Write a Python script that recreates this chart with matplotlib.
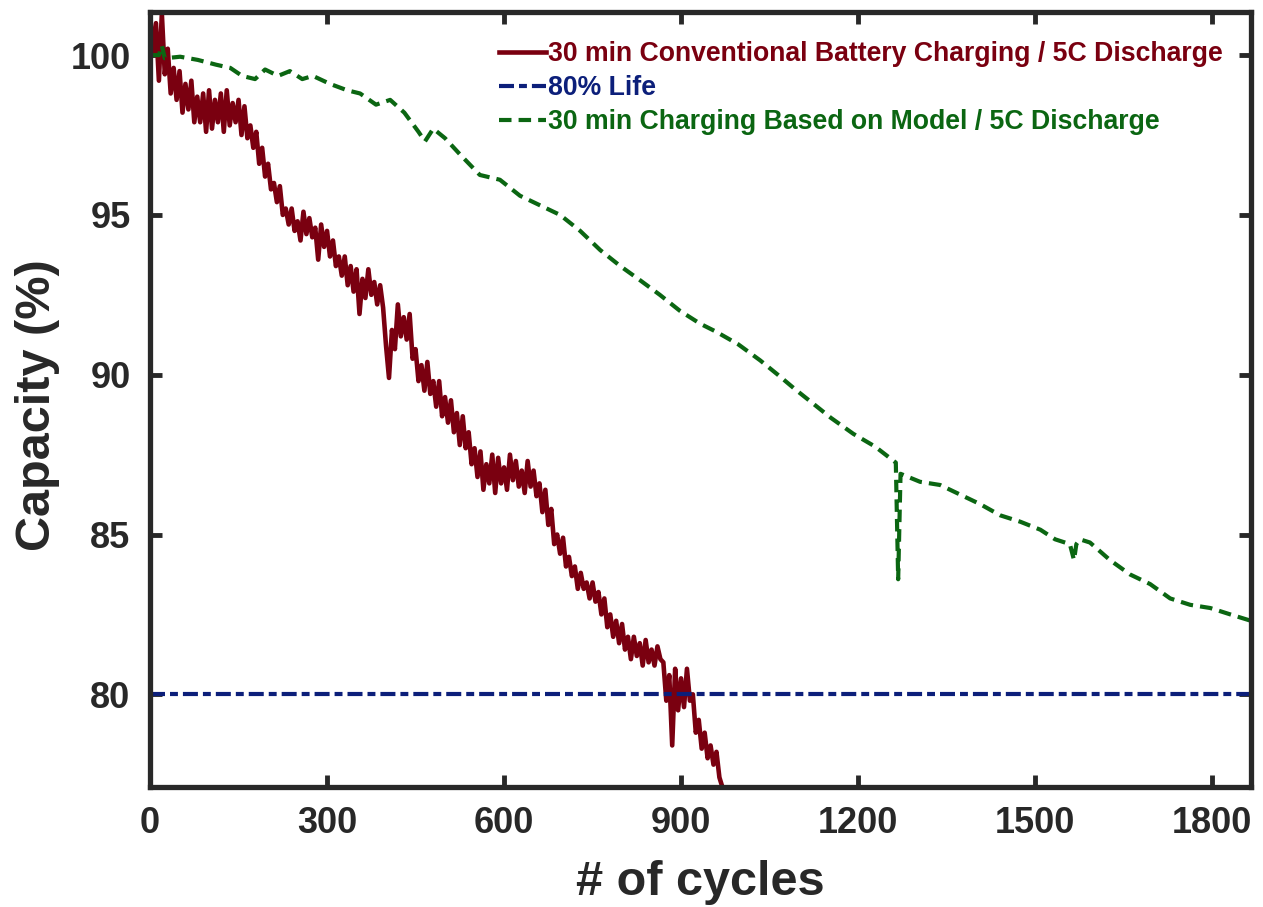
import numpy as np
import matplotlib
matplotlib.use("Agg")
from matplotlib import pyplot as plt

plt.rcParams['font.family'] = ['Liberation Sans', 'DejaVu Sans']
plt.rcParams['font.weight'] = 'bold'

# conventional charging: the curve is very noisy, so it is read as the
# upper value (at each 10-cycle mark) and the lower value 5 cycles later
conv_cycles = [0, 10, 20, 30, 40, 50, 60, 70, 80, 90,
               100, 110, 120, 130, 140, 150, 160, 170, 180, 190,
               200, 210, 220, 230, 240, 250, 260, 270, 280, 290,
               300, 310, 320, 330, 340, 350, 360, 370, 380, 390,
               400, 410, 420, 430, 440, 450, 460, 470, 480, 490,
               500, 510, 520, 530, 540, 550, 560, 570, 580, 590,
               600, 610, 620, 630, 640, 650, 660, 670, 680, 690,
               700, 710, 720, 730, 740, 750, 760, 770, 780, 790,
               800, 810, 820, 830, 840, 850, 860, 870, 880, 890,
               900, 910, 920, 930, 940, 950, 960]
conv_hi = [101.3, 101.0, 101.3, 100.2, 99.6, 99.5, 99.1, 99.2, 98.7, 98.8,
           98.9, 98.6, 98.8, 98.9, 98.5, 98.6, 98.4, 97.8, 97.6, 97.1,
           96.6, 96.0, 95.9, 95.2, 95.2, 94.8, 95.1, 94.9, 94.6, 94.7,
           94.5, 94.2, 93.7, 93.7, 93.4, 93.3, 93.0, 93.3, 92.9, 92.8,
           90.9, 91.4, 92.2, 91.8, 91.9, 90.8, 90.3, 90.4, 89.8, 89.8,
           89.3, 89.2, 88.8, 88.7, 88.2, 87.7, 87.6, 87.2, 87.5, 87.4,
           87.1, 87.5, 87.3, 87.0, 87.3, 87.0, 86.6, 86.4, 85.8, 85.0,
           84.9, 84.3, 84.0, 83.8, 83.5, 83.5, 83.2, 83.0, 82.5, 82.3,
           82.2, 81.8, 81.8, 81.6, 81.7, 81.4, 81.5, 81.0, 80.6, 80.8,
           80.5, 80.8, 80.0, 79.2, 78.8, 78.4, 78.2]
conv_lo = [100.0, 99.2, 99.4, 98.8, 98.6, 98.2, 98.3, 97.9, 97.9, 97.6,
           97.7, 97.9, 97.6, 97.8, 97.9, 97.5, 97.4, 97.1, 96.6, 96.2,
           95.8, 95.4, 95.0, 94.7, 94.5, 94.2, 94.4, 94.3, 93.6, 94.0,
           93.7, 93.4, 93.1, 92.8, 92.6, 91.9, 92.4, 92.5, 92.2, 92.1,
           89.9, 90.8, 91.2, 91.1, 90.5, 89.8, 89.5, 89.4, 89.0, 88.7,
           88.5, 88.2, 87.8, 87.7, 87.2, 86.8, 86.4, 86.6, 86.3, 86.6,
           86.4, 86.7, 86.5, 86.3, 86.5, 86.2, 85.7, 85.3, 84.7, 84.4,
           84.0, 83.7, 83.3, 83.3, 83.0, 82.9, 82.5, 82.1, 81.8, 81.6,
           81.4, 81.1, 81.2, 80.9, 81.0, 80.9, 81.1, 79.8, 78.4, 79.5,
           79.6, 79.8, 78.8, 78.3, 78.0, 77.8, 77.4]
conv_end = (970, 77.1)

# model based charging
model_cycles = [0, 15, 20, 25, 51, 81, 112, 136, 156, 178,
                195, 217, 237, 258, 276, 305, 334, 356, 383, 407,
                431, 455, 466, 480, 500, 525, 559, 593, 627, 661,
                695, 729, 763, 797, 831, 864, 898, 932, 959, 997,
                1034, 1064, 1093, 1127, 1154, 1192, 1229, 1264, 1268, 1272,
                1305, 1339, 1373, 1407, 1441, 1475, 1509, 1534, 1559, 1566,
                1570, 1576, 1593, 1627, 1661, 1695, 1729, 1763, 1797, 1831,
                1866]
model_cap = [100.0, 100.0, 100.3, 99.9, 99.95, 99.85, 99.7, 99.6, 99.35, 99.25,
             99.55, 99.35, 99.5, 99.25, 99.35, 99.1, 98.9, 98.8, 98.45, 98.6,
             98.2, 97.6, 97.3, 97.7, 97.4, 96.9, 96.25, 96.1, 95.6, 95.3,
             95.0, 94.5, 93.9, 93.4, 92.95, 92.5, 92.0, 91.6, 91.35, 90.95,
             90.45, 90.0, 89.55, 89.05, 88.65, 88.15, 87.75, 87.25, 83.6, 86.9,
             86.65, 86.55, 86.25, 85.95, 85.6, 85.4, 85.15, 84.85, 84.7, 84.2,
             84.7, 84.85, 84.75, 84.2, 83.75, 83.45, 83.0, 82.8, 82.7, 82.5,
             82.3]

life_level = 80
x_limits = [0, 1866]

# interleave the upper and lower readings of the noisy curve
conv_x = np.column_stack([conv_cycles, np.array(conv_cycles) + 5]).ravel()
conv_y = np.column_stack([conv_hi, conv_lo]).ravel()
conv_x = np.append(conv_x, conv_end[0])
conv_y = np.append(conv_y, conv_end[1])

red = '#7a0010'
blue = '#0c1f7a'
green = '#0b6612'
dark = '#282828'

fig = plt.figure(figsize=(12.63, 9.07), dpi=100)
ax = fig.add_axes([0.1188, 0.1323, 0.8717, 0.8545])

ax.plot(conv_x, conv_y, color=red, lw=3.3,
        label='30 min Conventional Battery Charging / 5C Discharge')
ax.plot(x_limits, [life_level, life_level], color=blue, lw=3,
        dashes=(3.6, 1.2, 1.9, 1.2), label='80% Life')
ax.plot(model_cycles, model_cap, color=green, lw=3,
        dashes=(3, 1.7), label='30 min Charging Based on Model / 5C Discharge')

ax.set_xlim(0, 1866)
ax.set_ylim(77.1, 101.35)
ax.set_xticks([0, 300, 600, 900, 1200, 1500, 1800])
ax.set_yticks([80, 85, 90, 95, 100])
ax.tick_params(direction='in', length=8.5, width=3.5, color=dark,
               top=True, right=True, labelsize=26, pad=14)
for lab in ax.get_xticklabels() + ax.get_yticklabels():
    lab.set_fontweight('bold')
    lab.set_color(dark)
for sp in ax.spines.values():
    sp.set_linewidth(3.8)
    sp.set_color(dark)

ax.set_xlabel('# of cycles', fontsize=35, fontweight='bold', color=dark)
ax.set_ylabel('Capacity (%)', fontsize=35, fontweight='bold', color=dark)
ax.xaxis.set_label_coords(0.4995, -0.094)
ax.yaxis.set_label_coords(-0.082, 0.493)

leg = ax.legend(loc='upper right', bbox_to_anchor=(0.974, 0.962), frameon=False,
                fontsize=19.2, handlelength=1.75, handletextpad=0.06,
                labelspacing=0.29, borderaxespad=0, borderpad=0)
for txt, col in zip(leg.get_texts(), [red, blue, green]):
    txt.set_color(col)
    txt.set_fontweight('bold')

fig.savefig('out.png', dpi=100)
